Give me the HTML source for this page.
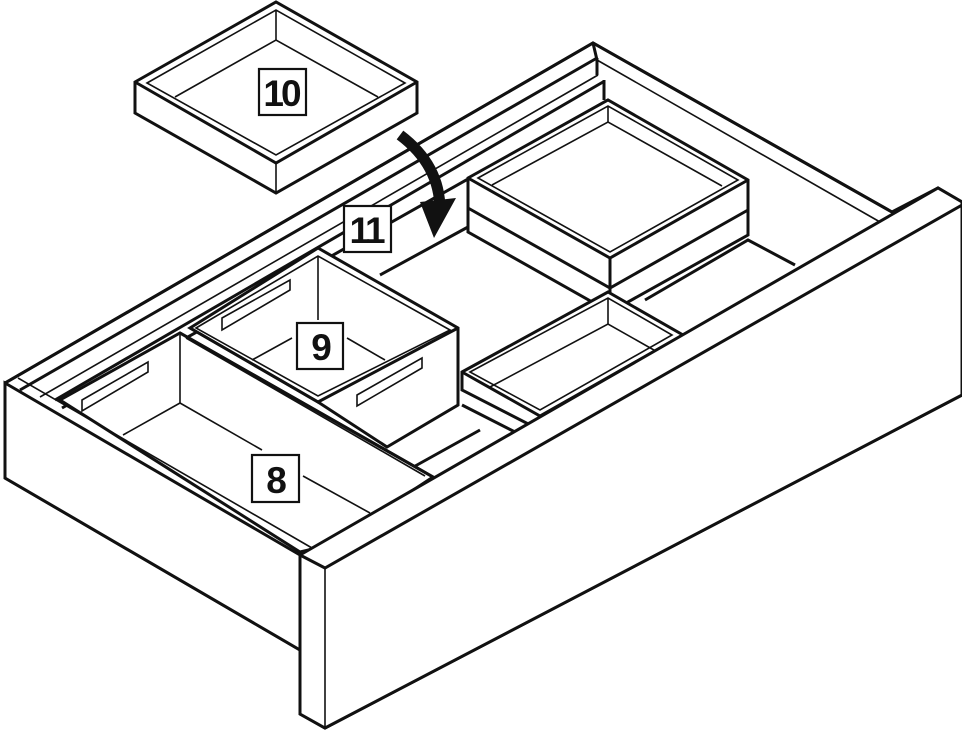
<!DOCTYPE html>
<html><head><meta charset="utf-8"><style>
html,body{margin:0;padding:0;background:#fff;}
svg{display:block;}
.l{fill:#fff;stroke:#111;stroke-width:3;stroke-linejoin:miter;}
.t{fill:none;stroke:#111;stroke-width:1.6;}
.m{fill:none;stroke:#111;stroke-width:3;}
.lb{fill:#fff;stroke:#111;stroke-width:2.2;}
.tx{font-family:"Liberation Sans",sans-serif;font-weight:bold;font-size:37px;fill:#111;letter-spacing:-3px;text-anchor:middle;}
</style></head><body>
<svg width="962" height="730" viewBox="0 0 962 730" xmlns="http://www.w3.org/2000/svg">
<polygon class="l" points="5,383 593,43 892,212 938,188 962,202 962,395 325,728 300,714 300,650 5,478"/>
<polyline class="m" points="5,383 593,43 892,212"/>
<polyline class="t" points="597,60 880,222"/>
<line class="m" x1="593" y1="43" x2="597" y2="60"/>
<line class="m" x1="20" y1="390" x2="597" y2="58"/>
<line class="t" x1="40" y1="397" x2="598" y2="75"/>
<line class="m" x1="55" y1="400" x2="603" y2="82"/>
<line class="m" x1="62" y1="408" x2="608" y2="100"/>
<line class="m" x1="597" y1="58" x2="597" y2="75"/>
<line class="m" x1="604" y1="80" x2="604" y2="100"/>
<polyline class="m" points="380,275 468,227"/>
<polyline class="m" points="385,447 458,405"/>
<polyline class="m" points="645,300 748,240 795,265"/>
<polyline class="m" points="710,340 798,290"/>
<polyline class="m" points="462,405 515,432"/>
<polyline class="m" points="390,480 480,430"/>
<polygon class="l" points="468,178 608,100 748,180 748,235 610,312 468,232"/>
<polyline class="m" points="468,178 610,258 748,180"/>
<line class="m" x1="610" y1="258" x2="610" y2="312"/>
<polyline class="m" points="468,208 610,288 748,210"/>
<polygon class="t" points="478,178 608,106 738,180 610,252"/>
<polyline class="t" points="492,185 608,122 722,186"/>
<line class="t" x1="608" y1="106" x2="608" y2="122"/>
<polygon class="l" points="462,372 608,292 683,335 683,352 540,430 462,390"/>
<polyline class="m" points="462,372 540,416 683,335"/>
<polygon class="t" points="470,372 608,298 672,335 540,410"/>
<polyline class="t" points="490,387 608,324 668,358"/>
<line class="t" x1="608" y1="298" x2="608" y2="324"/>
<line class="m" x1="540" y1="416" x2="540" y2="432"/>
<polygon class="l" points="190,328 318,248 458,328 458,405 387,447 318,402"/>
<polyline class="m" points="190,328 318,402 458,328"/>
<polygon class="t" points="196,328 318,256 450,330 318,396"/>
<line class="t" x1="318" y1="256" x2="318" y2="320"/>
<line class="t" x1="252" y1="360" x2="292" y2="338"/>
<line class="t" x1="347" y1="338" x2="385" y2="360"/>
<polygon class="t" points="222,318 290,280 290,290 222,330"/>
<polygon class="t" points="357,395 422,358 422,368 357,406"/>
<polygon class="l" points="60,400 180,333 433,477 330,545 300,552"/>
<polyline class="m" points="180,333 433,477"/>
<polyline class="t" points="186,338 425,476"/>
<line class="t" x1="180" y1="335" x2="180" y2="403"/>
<line class="t" x1="180" y1="403" x2="123" y2="435"/>
<line class="t" x1="180" y1="403" x2="262" y2="450"/>
<line class="t" x1="303" y1="476" x2="370" y2="513"/>
<polygon class="t" points="82,400 148,362 148,372 82,411"/>
<polygon class="l" points="5,383 300,555 300,650 5,478"/>
<line class="t" x1="18" y1="378" x2="312" y2="548"/>
<polygon class="l" points="300,555 938,188 962,202 962,395 325,728 300,714"/>
<polyline class="m" points="300,555 325,568 962,205"/>
<line class="t" x1="325" y1="568" x2="325" y2="728"/>
<polygon class="l" points="135,82 276,2 417,82 417,113 276,193 135,113"/>
<polyline class="m" points="135,82 276,163 417,82"/>
<line class="t" x1="276" y1="163" x2="276" y2="193"/>
<polygon class="t" points="147,83 276,10 405,83 276,155"/>
<polyline class="t" points="175,97 276,40 378,97"/>
<line class="t" x1="276" y1="10" x2="276" y2="40"/>
<path d="M400,135 Q440,165 440,210" fill="none" stroke="#111" stroke-width="11"/>
<polygon points="420,202 456,198 434,238" fill="#111"/>
<rect class="lb" x="259" y="69" width="47" height="46"/><text class="tx" x="281" y="106">10</text>
<rect class="lb" x="344" y="206" width="47" height="46"/><text class="tx" x="366" y="243">11</text>
<rect class="lb" x="297" y="323" width="46" height="46"/><text class="tx" x="320" y="360">9</text>
<rect class="lb" x="252" y="455" width="47" height="47"/><text class="tx" x="275" y="493">8</text>
</svg>
</body></html>
